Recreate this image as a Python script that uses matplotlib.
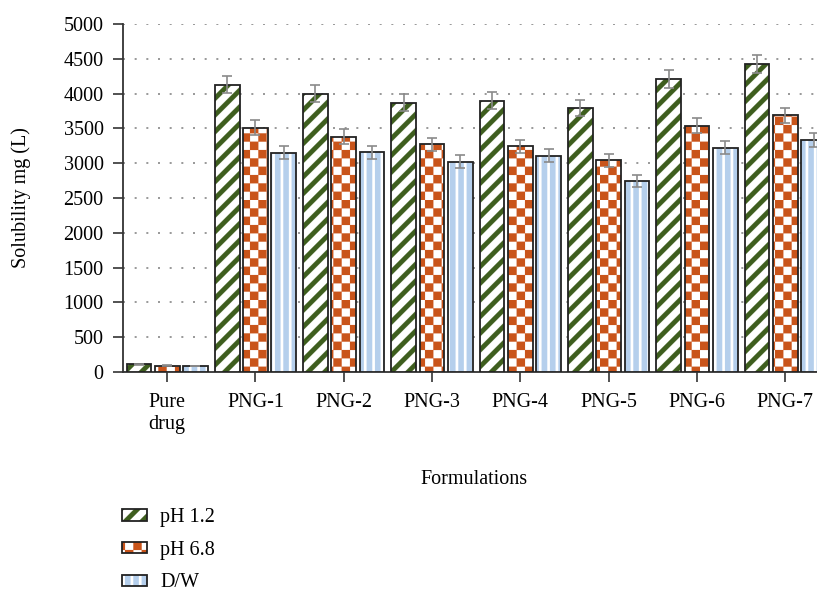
"""Solubility of formulations at different pH"""
import warnings

import matplotlib
matplotlib.use("Agg")
import matplotlib.hatch as mhatch
import matplotlib.pyplot as plt
import numpy as np
from matplotlib.legend_handler import HandlerTuple
from matplotlib.path import Path

warnings.filterwarnings("ignore")

categories = ["Pure\ndrug", "PNG-1", "PNG-2", "PNG-3", "PNG-4", "PNG-5", "PNG-6", "PNG-7"]
ph12 = [110, 4130, 4000, 3870, 3900, 3795, 4215, 4420]
ph68 = [90, 3510, 3380, 3270, 3245, 3045, 3540, 3690]
dw = [85, 3150, 3155, 3020, 3110, 2740, 3225, 3330]
err12 = [5, 125, 120, 120, 117, 117, 130, 130]
err68 = [5, 108, 105, 93, 93, 93, 108, 110]
err_dw = [5, 90, 96, 91, 93, 85, 95, 100]
series_labels = ["pH 1.2", "pH 6.8", "D/W"]


# --- custom filled hatch patterns -------------------------------------------
class _FilledPattern(mhatch.HatchPatternBase):
    key = ""

    def __init__(self, hatch, density):
        self.polys = self.make_polys() if self.key in hatch else []
        self.num_vertices = 5 * len(self.polys)

    def set_vertices_and_codes(self, vertices, codes):
        for k, p in enumerate(self.polys):
            vertices[5 * k:5 * k + 4] = p
            vertices[5 * k + 4] = p[0]
            codes[5 * k] = Path.MOVETO
            codes[5 * k + 1:5 * k + 4] = Path.LINETO
            codes[5 * k + 4] = Path.CLOSEPOLY


class Diagonal(_FilledPattern):
    key = "d"

    def make_polys(self):
        n, w = 6, 0.4
        out = []
        for k in range(-n - 1, n + 1):
            c = k / n
            out.append([(0, c), (1, 1 + c), (1, 1 + c + w / n), (0, c + w / n)])
        return out


class Checker(_FilledPattern):
    key = "c"

    def make_polys(self):
        n = 12
        out = []
        for i in range(n):
            for j in range(n):
                if (i + j) % 2 == 0:
                    x0, y0, s = i / n, j / n, 1 / n
                    out.append([(x0, y0), (x0 + s, y0), (x0 + s, y0 + s), (x0, y0 + s)])
        return out


class Vstripe(_FilledPattern):
    key = "v"

    def make_polys(self):
        n, w = 12, 0.66
        out = []
        for i in range(n):
            x0 = i / n
            out.append([(x0, -0.1), (x0 + w / n, -0.1), (x0 + w / n, 1.1), (x0, 1.1)])
        return out


mhatch._hatch_types.extend([Diagonal, Checker, Vstripe])

plt.rcParams["font.family"] = ["Liberation Serif", "DejaVu Serif"]
plt.rcParams["hatch.linewidth"] = 0.1
FS = 14.5

fig = plt.figure(figsize=(8.17, 5.92), dpi=100)
ax = fig.add_axes([123 / 817, 220 / 592, 706.4 / 817, 348 / 592])

x = np.arange(len(categories))
width = 0.28
offsets = [-0.32, 0, 0.32]
series = [ph12, ph68, dw]
errs = [err12, err68, err_dw]
hatches = ["d", "c", "v"]
hcolors = ["#3e5e1e", "#c9541a", "#b5cfec"]

handles = []
for off, vals, er, h, hc in zip(offsets, series, errs, hatches, hcolors):
    b1 = ax.bar(x + off, vals, width, color="white", edgecolor=hc, hatch=h,
                linewidth=0, zorder=3)
    b2 = ax.bar(x + off, vals, width, fill=False, edgecolor="#222222",
                linewidth=1.3, zorder=4)
    ax.errorbar(x + off, vals, yerr=er, fmt="none", ecolor="#8a8a8a",
                elinewidth=1.2, capsize=3.5, capthick=1.2, zorder=5)
    handles.append((b1, b2))

ax.set_xlim(-0.5, 7.5)
ax.set_ylim(0, 5000)
ax.set_yticks(np.arange(0, 5001, 500))
ax.set_xticks(x)
ax.set_xticklabels(categories, fontsize=FS)
ax.tick_params(axis="y", labelsize=FS, length=7, width=1.2, color="#333333", pad=7)
ax.tick_params(axis="x", length=7, width=1.2, color="#333333", pad=8)

for s in ["top", "right"]:
    ax.spines[s].set_visible(False)
for s in ["left", "bottom"]:
    ax.spines[s].set_linewidth(1.3)
    ax.spines[s].set_color("#333333")

ax.yaxis.grid(True, linestyle=(0, (1.2, 5.8)), linewidth=1.2, color="#888888", zorder=0)
ax.set_axisbelow(True)

ax.set_ylabel("Solubility mg (L)", fontsize=FS, labelpad=23)
fig.text(474 / 817, 1 - 479 / 592, "Formulations", fontsize=FS, ha="center", va="center")

fig.legend(handles, series_labels, handler_map={tuple: HandlerTuple(ndivide=1)},
           loc="upper left", bbox_to_anchor=(114 / 817, 1 - 500 / 592),
           borderaxespad=0, frameon=False, fontsize=FS, handlelength=1.25,
           handleheight=0.5, handletextpad=0.65, labelspacing=0.68)

fig.savefig("out.png", dpi=100)
